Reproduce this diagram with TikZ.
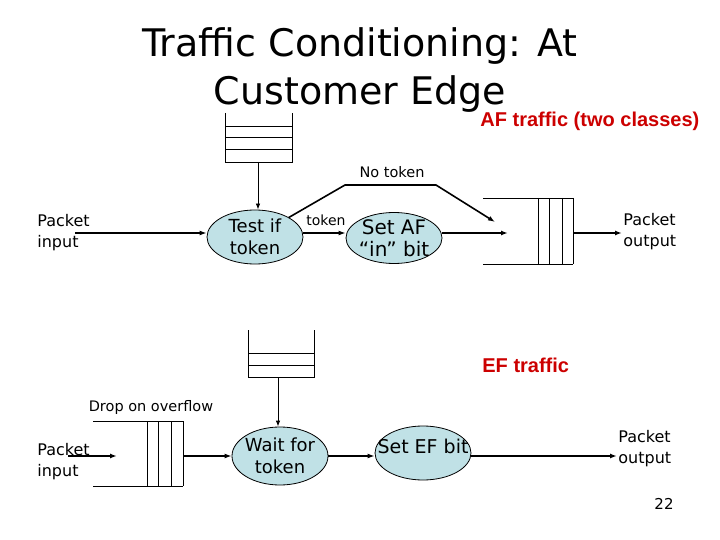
\documentclass[tikz,border=0pt]{standalone}
\usepackage{fontspec}
\setmainfont{DejaVu Sans}
\newfontfamily\arialfont{Liberation Sans}
\usetikzlibrary{shapes.geometric,arrows.meta}
\definecolor{procblue}{RGB}{192,225,230}
\definecolor{trafred}{RGB}{204,0,0}
\tikzset{
  proc/.style={ellipse,draw,fill=procblue,minimum width=96pt,minimum height=54pt,inner sep=0pt},
  ptxt/.style={align=center,inner sep=0pt,font=\fontsize{18}{22}\selectfont},
  lbl/.style={anchor=west,align=left,inner sep=0pt,font=\fontsize{16}{21}\selectfont},
  small/.style={font=\fontsize{14.5}{17}\selectfont},
  classlbl/.style={anchor=base west,inner sep=0pt,text=trafred,font=\arialfont\bfseries\fontsize{20}{24}\selectfont},
  flow/.style={-{Latex[length=7pt,width=5pt]},line width=1.6pt},
  feed/.style={-{Latex[length=6pt,width=4.5pt]},line width=0.8pt},
}
\begin{document}
\begin{tikzpicture}[x=1pt,y=-1pt,line width=0.8pt]
\useasboundingbox (0,0) rectangle (720,540);
\node[anchor=base,font=\fontsize{38}{46}\selectfont] (title1) at (360,57) {Traffic Conditioning: At};
\node[anchor=base,font=\fontsize{38}{46}\selectfont] (title2) at (360,105) {Customer Edge};
\node[classlbl] (af) at (480,127) {AF traffic (two classes)};
\node[classlbl] (ef) at (482,372) {EF traffic};
% AF traffic
\node[lbl] (in1) at (37,233) {Packet\\input};
\node[proc] (test) at (255,237) {};
\node[ptxt] (testtxt) at (test) {Test if\\token};
\node[proc,minimum height=51pt] (setaf) at (394,238) {};
\node[ptxt,font=\fontsize{20}{22}\selectfont] (setaftxt) at (setaf) {Set AF\\“in” bit};
\node[lbl] (out1) at (623,232) {Packet\\output};
\node[small] (notok) at (392,172) {No token};
\node[font=\fontsize{14}{16}\selectfont,inner sep=0pt] (tok) at (326,220) {token};
\draw (225,113)--(225,162)--(292,162)--(292,113);
\foreach \y in {126,137,149}{\draw (225,\y)--(292,\y);}
\draw (483,198)--(573,198) (483,264)--(573,264);
\foreach \x in {538,549,562,573}{\draw (\x,198)--(\x,264);}
\coordinate (q1) at (258,162);
\coordinate (in1e) at (75,233);
\coordinate (q2in) at (508,233);\coordinate (q2out) at (573,233);\coordinate (q2top) at (495,222);
\draw[feed] (q1)--(q1 |- test.north);
\draw[flow] (in1e)--(in1e -| test.west);
\draw[flow] (test.east |- q2in)--(setaf.west |- q2in);
\draw[flow] (setaf.east |- q2in)--(q2in);
\draw[flow] (q2out)--([xshift=-1pt]q2out -| out1.west);
\draw[flow] (test.30)--(345,185)--(436,185)--(q2top);
% EF traffic
\node[small] (drop) at (151,407) {Drop on overflow};
\node[lbl] (in2) at (37,462) {Packet\\input};
\node[proc,minimum height=58pt] (wait) at (280,456) {};
\node[ptxt] (waittxt) at (wait) {Wait for\\token};
\node[proc] (setef) at (423,453) {};
\node[ptxt,font=\fontsize{19}{22}\selectfont] (seteftxt) at (423,446) {Set EF bit};
\node[lbl] (out2) at (618,449) {Packet\\output};
\node[font=\fontsize{15}{18}\selectfont] (page) at (664,504) {22};
\draw (248,330)--(248,377)--(314,377)--(314,330);
\foreach \y in {353,365}{\draw (248,\y)--(314,\y);}
\draw (93,421)--(183,421) (93,486)--(183,486);
\foreach \x in {147,158,171,183}{\draw (\x,421)--(\x,486);}
\coordinate (q3) at (278,377);
\coordinate (in2e) at (68,456);\coordinate (q4in) at (117,456);\coordinate (q4out) at (183,456);
\draw[feed] (q3)--(q3 |- wait.north);
\draw[flow] (in2e)--(q4in);
\draw[flow] (q4out)--(wait.west);
\draw[flow] (wait.east)--(wait.east -| setef.west);
\draw[flow] (setef.east |- wait)--([xshift=-1pt]wait -| out2.west);
\end{tikzpicture}
\end{document}
